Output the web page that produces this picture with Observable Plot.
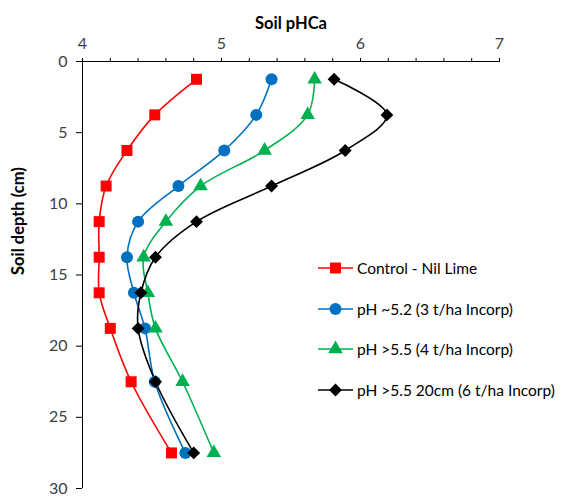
<!DOCTYPE html>
<html>
<head>
<meta charset="utf-8">
<script src="https://cdn.jsdelivr.net/npm/d3@7"></script>
<script src="https://cdn.jsdelivr.net/npm/@observablehq/plot@0.6"></script>
<style>
  html, body { margin: 0; padding: 0; background: #fff; }
  #wrap { position: relative; width: 563px; height: 498px; font-family: Lato, "Open Sans", sans-serif; }
  #wrap svg { font-family: Lato, "Open Sans", sans-serif; }
  #legend { position: absolute; left: 318px; top: 258px; font-size: 15.5px; color: #000; }
  .item { display: flex; align-items: center; height: 20px; margin-bottom: 20.7px; white-space: nowrap; }
  .item svg { margin-right: 3px; }
</style>
</head>
<body>
<div id="wrap"></div>
<script>
const depths = [1.25, 3.75, 6.25, 8.75, 11.25, 13.75, 16.25, 18.75, 22.5, 27.5];
const seriesNames = ["Control - Nil Lime", "pH ~5.2 (3 t/ha Incorp)", "pH >5.5 (4 t/ha Incorp)", "pH >5.5 20cm (6 t/ha Incorp)"];
const control = [4.82, 4.52, 4.32, 4.17, 4.12, 4.12, 4.12, 4.20, 4.35, 4.64];
const ph52 = [5.36, 5.25, 5.02, 4.69, 4.40, 4.32, 4.37, 4.45, 4.52, 4.74];
const ph55 = [5.67, 5.62, 5.31, 4.85, 4.60, 4.44, 4.47, 4.525, 4.72, 4.945];
const ph55deep = [5.81, 6.19, 5.89, 5.36, 4.82, 4.525, 4.42, 4.40, 4.525, 4.80];
const colors = ["#FF0000", "#0070C0", "#00B050", "#000000"];
const symbols = ["square", "circle", "triangle", "diamond2"];
const xTicks = [4, 5, 6, 7];
const xMinorTicks = [4, 4.2, 4.4, 4.6, 4.8, 5, 5.2, 5.4, 5.6, 5.8, 6, 6.2, 6.4, 6.6, 6.8, 7];
const yTicks = [0, 5, 10, 15, 20, 25, 30];
const xLabel = "Soil pHCa";
const yLabel = "Soil depth (cm)";

const allSeries = [control, ph52, ph55, ph55deep];
const data = [];
allSeries.forEach((vals, i) => vals.forEach((v, j) => data.push({series: seriesNames[i], ph: v, depth: depths[j]})));

const symR = {"square": 6.2, "circle": 6, "triangle": 5.4, "diamond2": 5.8};

const chart = Plot.plot({
  width: 563,
  height: 498,
  marginLeft: 82,
  marginRight: 64,
  marginTop: 61,
  marginBottom: 10,
  style: {fontSize: "16px", color: "#000", background: "#fff"},
  x: {domain: [4, 7]},
  y: {domain: [0, 30], reverse: true},
  color: {domain: seriesNames, range: colors},
  symbol: {domain: seriesNames, range: symbols},
  marks: [
    Plot.ruleX([4], {stroke: "#000", strokeWidth: 1}),
    Plot.ruleY([0], {stroke: "#000", strokeWidth: 1}),
    Plot.axisX({anchor: "top", ticks: xMinorTicks, tickSize: 4, tickFormat: () => "", label: null, stroke: "#000"}),
    Plot.axisX({anchor: "top", ticks: xTicks, tickSize: 4, tickPadding: 9, tickFormat: d => String(d), label: null, fill: "#404040", stroke: "#000", fontSize: 16}),
    Plot.axisY({anchor: "left", ticks: yTicks, tickSize: 6, tickPadding: 9, tickFormat: d => String(d), label: null, fill: "#404040", stroke: "#000", fontSize: 16}),
    Plot.text([xLabel], {frameAnchor: "top", dy: -44, fontWeight: "bold", fontSize: 16.5, fill: "#000"}),
    Plot.text([yLabel], {frameAnchor: "left", dx: -64, rotate: -90, fontWeight: "bold", fontSize: 16.5, fill: "#000"}),
    Plot.line(data, {x: "ph", y: "depth", z: "series", stroke: "series", curve: "catmull-rom", strokeWidth: 1.6}),
    ...seriesNames.map((name, i) => Plot.dot(data.filter(d => d.series === name), {
      x: "ph", y: "depth", symbol: "series", fill: "series", stroke: "none", r: symR[symbols[i]]
    }))
  ]
});
document.getElementById("wrap").appendChild(chart);

// legend
const legend = document.createElement("div");
legend.id = "legend";
const symMap = {square: d3.symbolSquare, circle: d3.symbolCircle, triangle: d3.symbolTriangle, diamond2: d3.symbolDiamond2};
seriesNames.forEach((name, i) => {
  const item = document.createElement("div");
  item.className = "item";
  const sw = d3.create("svg").attr("width", 36).attr("height", 20);
  sw.append("line").attr("x1", 0).attr("x2", 35).attr("y1", 10).attr("y2", 10).attr("stroke", colors[i]).attr("stroke-width", 1.6);
  const r = symR[symbols[i]];
  const size = Math.PI * r * r;
  sw.append("path").attr("d", d3.symbol(symMap[symbols[i]], size)()).attr("transform", "translate(17.5,10)").attr("fill", colors[i]);
  item.appendChild(sw.node());
  const t = document.createElement("span");
  t.textContent = name;
  item.appendChild(t);
  legend.appendChild(item);
});
document.getElementById("wrap").appendChild(legend);
</script>
</body>
</html>
